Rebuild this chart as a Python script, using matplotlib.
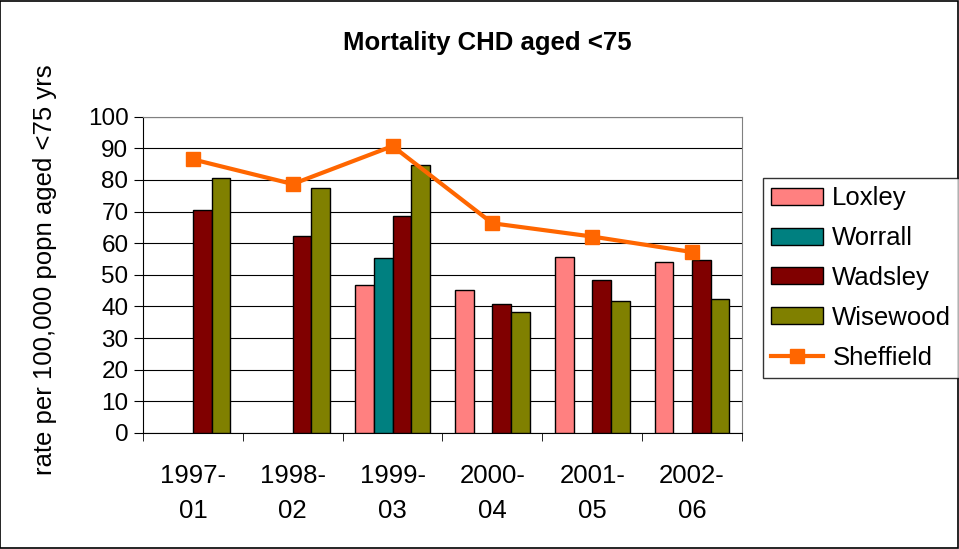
import numpy as np
import matplotlib.pyplot as plt
from matplotlib.patches import Rectangle

plt.rcParams['font.family'] = ['Liberation Sans', 'DejaVu Sans']

# data
periods = ["1997-\n01", "1998-\n02", "1999-\n03", "2000-\n04", "2001-\n05", "2002-\n06"]
loxley = [np.nan, np.nan, 46.8, 45.3, 55.5, 53.9]
worrall = [np.nan, np.nan, 55.4, np.nan, np.nan, np.nan]
wadsley = [70.5, 62.4, 68.5, 40.7, 48.3, 54.8]
wisewood = [80.5, 77.6, 84.7, 38.2, 41.8, 42.4]
sheffield = [86.5, 78.7, 90.7, 66.3, 62.1, 57.2]

fig = plt.figure(figsize=(9.59, 5.49), dpi=100)
ax = fig.add_axes([0.1491, 0.2113, 0.6246, 0.5762])

x = np.arange(len(periods))
w = 0.187
series = [
    ("Loxley", loxley, "#FF8080"),
    ("Worrall", worrall, "#008080"),
    ("Wadsley", wadsley, "#800000"),
    ("Wisewood", wisewood, "#808000"),
]
handles = []
for i, (name, vals, col) in enumerate(series):
    b = ax.bar(x + (i - 1.5) * w, vals, w, color=col, edgecolor="black",
               linewidth=1, label=name, zorder=3)
    handles.append(b)

line, = ax.plot(x, sheffield, color="#FF6600", lw=3, marker="s", markersize=9.5,
                label="Sheffield", zorder=4)
handles.append(line)

ax.set_xlim(-0.5, len(periods) - 0.5)
ax.set_ylim(0, 100)
ax.set_yticks(range(0, 101, 10))
ax.tick_params(axis="y", labelsize=17.5, length=6.5, direction="out", pad=4)
ax.set_xticks(x)
ax.set_xticklabels(periods, fontsize=18.5, linespacing=1.6)
ax.tick_params(axis="x", length=0, pad=22)
ax.set_xticks(np.arange(-0.5, len(periods), 1), minor=True)
ax.tick_params(axis="x", which="minor", length=6, direction="out")
ax.grid(axis="y", color="black", lw=0.8, zorder=0)

for s in ("top", "right"):
    ax.spines[s].set_color("#808080")
ax.spines["left"].set_color("black")
ax.spines["bottom"].set_color("black")

fig.text(0.508, 0.922, "Mortality CHD aged <75", ha="center", va="center",
         fontsize=18.5, fontweight="bold")
fig.text(0.047, 0.508, "rate per 100,000 popn aged <75 yrs", rotation=90,
         ha="center", va="center", fontsize=18.5)

leg = fig.legend(handles=handles, labels=[h.get_label() for h in handles],
                 loc="upper left", bbox_to_anchor=(0.7956, 0.675),
                 fontsize=18.5, frameon=True, fancybox=False, edgecolor="black",
                 handlelength=2.05, handleheight=0.64, handletextpad=0.35,
                 labelspacing=0.62, borderpad=0.3, borderaxespad=0)
leg.get_frame().set_linewidth(1)

fig.patches.append(Rectangle((0.0005, 0.001), 0.998, 0.997, transform=fig.transFigure,
                             fill=False, edgecolor="black", lw=1.2))

fig.savefig("out.png", dpi=100)
